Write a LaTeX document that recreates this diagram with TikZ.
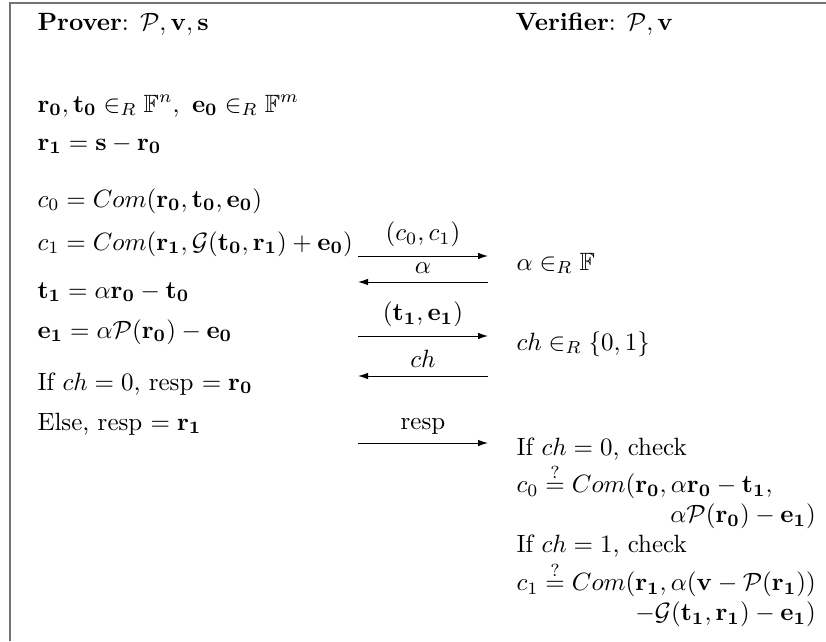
\documentclass[tikz,border=0pt]{standalone}
\usepackage{amsmath}
\usepackage{amssymb}
\usetikzlibrary{positioning, arrows.meta}

\begin{document}
\begin{tikzpicture}[
    x=0.4pt,
    y=-0.4pt,
    line/.style={
        anchor=base west,
        inner sep=0pt
    },
    msg/.style={
        -{Latex[length=4pt,width=2.6pt]}
    },
    frame/.style={
        draw=black!55,
        line width=0.8pt
    }
]

\useasboundingbox (0,0) rectangle (826,641);
\draw[frame] (10,641) -- (10,3) -- (826,3);

% prover side
\node[line] (prover) at (37,30) {\textbf{Prover}: $\mathcal{P}, \mathbf{v}, \mathbf{s}$};
\node[line] (pick) at (37,112) {$\mathbf{r_0}, \mathbf{t_0} \in_R \mathbb{F}^n,\ \mathbf{e_0} \in_R \mathbb{F}^m$};
\node[line] (rone) at (37,150) {$\mathbf{r_1} = \mathbf{s} - \mathbf{r_0}$};
\node[line] (czero) at (37,207) {$c_0 = Com(\mathbf{r_0}, \mathbf{t_0}, \mathbf{e_0})$};
\node[line] (cone) at (37,250) {$c_1 = Com(\mathbf{r_1}, \mathcal{G}(\mathbf{t_0}, \mathbf{r_1}) + \mathbf{e_0})$};
\node[line] (tone) at (37,298) {$\mathbf{t_1} = \alpha\mathbf{r_0} - \mathbf{t_0}$};
\node[line] (eone) at (37,338) {$\mathbf{e_1} = \alpha\mathcal{P}(\mathbf{r_0}) - \mathbf{e_0}$};
\node[line] (ifch) at (37,390) {If $ch = 0$, resp $= \mathbf{r_0}$};
\node[line] (elsech) at (37,430) {Else, resp $= \mathbf{r_1}$};

% verifier side
\node[line] (verifier) at (515,30) {\textbf{Verifier}: $\mathcal{P}, \mathbf{v}$};
\node[line] (alpha) at (516,270) {$\alpha \in_R \mathbb{F}$};
\node[line] (chal) at (516,350) {$ch \in_R \{0,1\}$};
\node[line] (verify) at (516,455) {\begin{tabular}[t]{@{}l@{}}
    If $ch = 0$, check\\
    $c_0 \stackrel{?}{=} Com(\mathbf{r_0}, \alpha\mathbf{r_0} - \mathbf{t_1},$\\
    \hfill $\alpha\mathcal{P}(\mathbf{r_0}) - \mathbf{e_1})$\\
    If $ch = 1$, check\\
    $c_1 \stackrel{?}{=} Com(\mathbf{r_1}, \alpha(\mathbf{v} - \mathcal{P}(\mathbf{r_1}))$\\
    \hfill $-\mathcal{G}(\mathbf{t_1}, \mathbf{r_1}) - \mathbf{e_1})$
\end{tabular}};

% messages
\coordinate (m1a) at (358,256);
\coordinate (m1b) at (488,256);
\coordinate (m2a) at (358,282);
\coordinate (m2b) at (488,282);
\coordinate (m3a) at (358,336);
\coordinate (m3b) at (488,336);
\coordinate (m4a) at (358,376);
\coordinate (m4b) at (488,376);
\coordinate (m5a) at (358,443);
\coordinate (m5b) at (488,443);

\draw[msg] (m1a) -- node[above] (commit) {$(c_0, c_1)$} (m1b);
\draw[msg] (m2b) -- node[above] (chalone) {$\alpha$} (m2a);
\draw[msg] (m3a) -- node[above] (answer) {$(\mathbf{t_1}, \mathbf{e_1})$} (m3b);
\draw[msg] (m4b) -- node[above] (chaltwo) {$ch$} (m4a);
\draw[msg] (m5a) -- node[above] (resp) {resp} (m5b);

\end{tikzpicture}
\end{document}
